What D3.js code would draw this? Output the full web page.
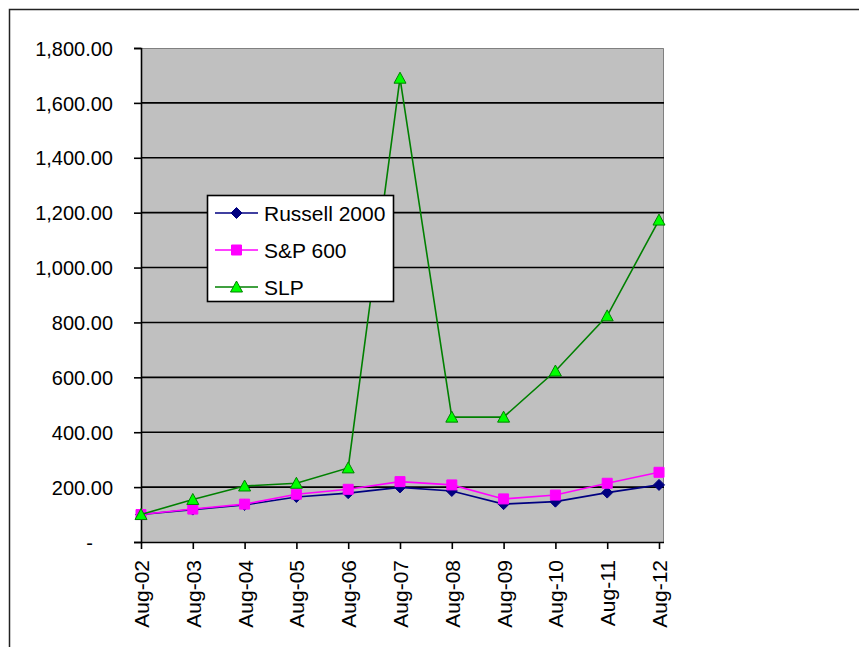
<!DOCTYPE html>
<html>
<head>
<meta charset="utf-8">
<script src="https://cdn.jsdelivr.net/npm/d3@7"></script>
<style>
html,body{margin:0;padding:0;background:#fff;}
svg{display:block;}
text{font-family:"Liberation Sans",Arial,sans-serif;fill:#000;}
</style>
</head>
<body>
<script>
const categories = ["Aug-02","Aug-03","Aug-04","Aug-05","Aug-06","Aug-07","Aug-08","Aug-09","Aug-10","Aug-11","Aug-12"];
const russell = [100, 118, 135, 164, 178, 199, 186, 138, 147, 180, 208];
const sp600   = [100, 120, 138, 174, 192, 220, 208, 157, 171, 214, 254];
const slp     = [100, 155, 204, 214, 270, 1690, 455, 455, 623, 824, 1173];
const yTicks  = [0, 200, 400, 600, 800, 1000, 1200, 1400, 1600, 1800];
const yTickLabels = ["-", "200.00", "400.00", "600.00", "800.00", "1,000.00", "1,200.00", "1,400.00", "1,600.00", "1,800.00"];
const seriesNames = ["Russell 2000", "S&P 600", "SLP"];

const W = 859, H = 647;
const plot = {left: 141, right: 664, top: 48, bottom: 542};

const svg = d3.select("body").append("svg").attr("width", W).attr("height", H);

// outer chart frame (cropped at right and bottom)
svg.append("path").attr("d", `M9.5,${H} L9.5,9.5 L${W},9.5`)
  .attr("fill","none").attr("stroke","#222").attr("stroke-width",1.5);

const x = d3.scalePoint().domain(categories).range([plot.left, 659]);
const y = d3.scaleLinear().domain([0, 1800]).range([plot.bottom, plot.top]);

// plot background
svg.append("rect").attr("x", plot.left).attr("y", plot.top)
  .attr("width", plot.right - plot.left).attr("height", plot.bottom - plot.top)
  .attr("fill", "#c0c0c0");
// top and right border
svg.append("path").attr("d", `M${plot.left},${plot.top+0.5} L${plot.right-0.5},${plot.top+0.5} L${plot.right-0.5},${plot.bottom}`)
  .attr("fill","none").attr("stroke","#808080").attr("stroke-width",1);

// gridlines
svg.append("g").selectAll("line").data(yTicks.filter(v => v > 0 && v < 1800)).join("line")
  .attr("x1", plot.left).attr("x2", plot.right)
  .attr("y1", d => y(d)).attr("y2", d => y(d))
  .attr("stroke", "#000").attr("stroke-width", 1.6);

// Y axis
const yAxis = d3.axisLeft(y).tickValues(yTicks).tickSize(7).tickPadding(0)
  .tickFormat((d, i) => yTickLabels[i]);
const gy = svg.append("g").attr("transform", `translate(${plot.left},0)`).call(yAxis);
gy.select(".domain").attr("stroke", "#000").attr("stroke-width", 1.6);
gy.selectAll(".tick line").attr("stroke", "#000").attr("stroke-width", 1.6);
gy.selectAll(".tick text").attr("font-size", 20).attr("font-family", "Liberation Sans, Arial, sans-serif")
  .attr("fill", "#000").attr("x", -28).attr("dy", "0.36em");
gy.selectAll(".tick text").filter(d => d === 0).attr("x", -48);

// X axis
const xAxis = d3.axisBottom(x).tickSize(7).tickPadding(0);
const gx = svg.append("g").attr("transform", `translate(0,${plot.bottom})`).call(xAxis);
gx.select(".domain").attr("d", `M${plot.left},0.5H${plot.right}`).attr("stroke", "#000").attr("stroke-width", 1.6);
gx.selectAll(".tick line").attr("stroke", "#000").attr("stroke-width", 1.6);
gx.selectAll(".tick text").attr("font-size", 21).attr("font-family", "Liberation Sans, Arial, sans-serif")
  .attr("fill", "#000")
  .attr("transform", "rotate(-90)")
  .attr("text-anchor", "end")
  .attr("x", -18).attr("y", 0).attr("dy", "0.36em");

// series
const series = [
  {name: seriesNames[0], values: russell, color: "#000080", fill: "#000080", marker: "diamond"},
  {name: seriesNames[1], values: sp600, color: "#ff00ff", fill: "#ff00ff", marker: "square"},
  {name: seriesNames[2], values: slp, color: "#008000", fill: "#00ff00", marker: "triangle"}
];
const markerPath = {
  diamond: "M0,-5.5 L5.5,0 L0,5.5 L-5.5,0 Z",
  square: "M-5,-5 H5 V5 H-5 Z",
  triangle: "M0,-6 L6,5 L-6,5 Z"
};
const line = d3.line().x((d, i) => x(categories[i])).y(d => y(d));

series.forEach(s => {
  const g = svg.append("g");
  g.append("path").attr("d", line(s.values)).attr("fill", "none")
    .attr("stroke", s.color).attr("stroke-width", 1.6);
  g.selectAll("path.m").data(s.values).join("path").attr("class", "m")
    .attr("d", markerPath[s.marker])
    .attr("transform", (d, i) => `translate(${x(categories[i])},${y(d)})`)
    .attr("fill", s.fill)
    .attr("stroke", s.marker === "triangle" ? "#008000" : s.color)
    .attr("stroke-width", 1);
});

// legend
const lg = svg.append("g");
lg.append("rect").attr("x", 207.5).attr("y", 195.5).attr("width", 186).attr("height", 106)
  .attr("fill", "#fff").attr("stroke", "#000").attr("stroke-width", 1.6);
series.forEach((s, i) => {
  const cy = 213 + i * 37;
  lg.append("line").attr("x1", 215).attr("x2", 258).attr("y1", cy).attr("y2", cy)
    .attr("stroke", s.color).attr("stroke-width", 1.6);
  lg.append("path").attr("d", markerPath[s.marker])
    .attr("transform", `translate(236.5,${cy})`)
    .attr("fill", s.fill).attr("stroke", s.marker === "triangle" ? "#008000" : s.color).attr("stroke-width", 1);
  lg.append("text").attr("x", 264).attr("y", cy).attr("dy", "0.36em")
    .attr("font-size", 21).text(s.name);
});
</script>
</body>
</html>
